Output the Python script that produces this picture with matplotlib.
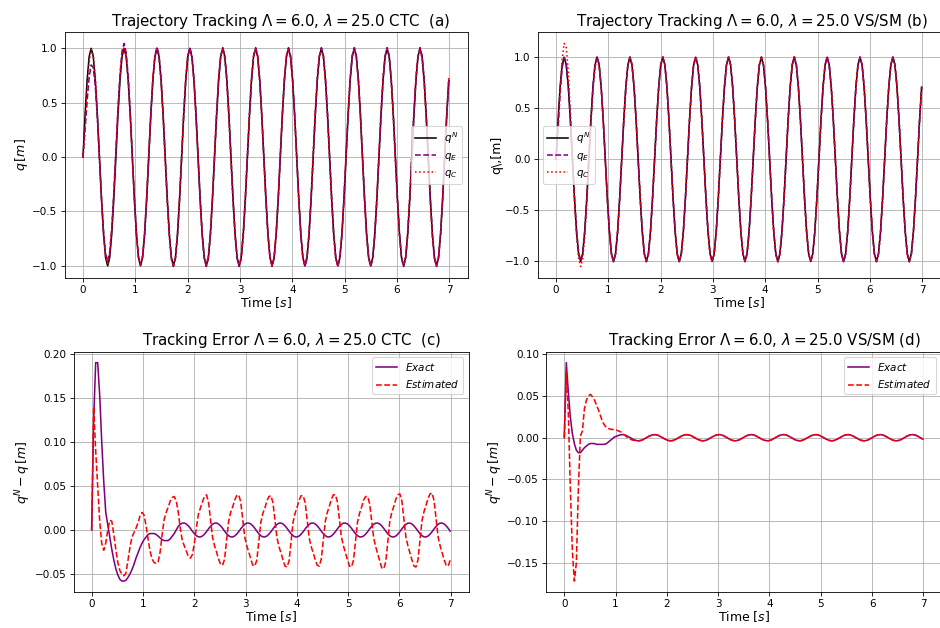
import numpy as np
import matplotlib
matplotlib.use('Agg')
import matplotlib.pyplot as plt

# sample times (16 samples per reference period)
t = np.linspace(0.0, 6.99, 179)

# reference trajectory q^N
q_ref = [
    0.0, 0.383, 0.707, 0.924, 1.0, 0.924, 0.707, 0.383, 0.0, -0.383, -0.707, -0.924, -1.0, -0.924, -0.707, -0.383,
    0.0, 0.383, 0.707, 0.924, 1.0, 0.924, 0.707, 0.383, 0.0, -0.383, -0.707, -0.924, -1.0, -0.924, -0.707, -0.383,
    0.0, 0.383, 0.707, 0.924, 1.0, 0.924, 0.707, 0.383, 0.0, -0.383, -0.707, -0.924, -1.0, -0.924, -0.707, -0.383,
    0.0, 0.383, 0.707, 0.924, 1.0, 0.924, 0.707, 0.383, 0.0, -0.383, -0.707, -0.924, -1.0, -0.924, -0.707, -0.383,
    0.0, 0.383, 0.707, 0.924, 1.0, 0.924, 0.707, 0.383, 0.0, -0.383, -0.707, -0.924, -1.0, -0.924, -0.707, -0.383,
    0.0, 0.383, 0.707, 0.924, 1.0, 0.924, 0.707, 0.383, 0.0, -0.383, -0.707, -0.924, -1.0, -0.924, -0.707, -0.383,
    0.0, 0.383, 0.707, 0.924, 1.0, 0.924, 0.707, 0.383, 0.0, -0.383, -0.707, -0.924, -1.0, -0.924, -0.707, -0.383,
    0.0, 0.383, 0.707, 0.924, 1.0, 0.924, 0.707, 0.383, 0.0, -0.383, -0.707, -0.924, -1.0, -0.924, -0.707, -0.383,
    0.0, 0.383, 0.707, 0.924, 1.0, 0.924, 0.707, 0.383, 0.0, -0.383, -0.707, -0.924, -1.0, -0.924, -0.707, -0.383,
    0.0, 0.383, 0.707, 0.924, 1.0, 0.924, 0.707, 0.383, 0.0, -0.383, -0.707, -0.924, -1.0, -0.924, -0.707, -0.383,
    0.0, 0.383, 0.707, 0.924, 1.0, 0.924, 0.707, 0.383, 0.0, -0.383, -0.707, -0.924, -1.0, -0.924, -0.707, -0.383,
    0.0, 0.383, 0.707,
]

# CTC: exact and estimated tracking error
err_exact_ctc = [
    0.0, 0.125, 0.19, 0.19, 0.153, 0.10, 0.055, 0.02, 0.006, -0.008, -0.022, -0.034, -0.044, -0.051, -0.056, -0.058,
    -0.058, -0.057, -0.054, -0.050, -0.045, -0.039, -0.032, -0.026, -0.020, -0.015, -0.011, -0.008, -0.005, -0.004, -0.004, -0.004,
    -0.005, -0.007, -0.009, -0.011, -0.012, -0.012, -0.012, -0.010, -0.007, -0.004, 0.000, 0.0042, 0.0065, 0.0078, 0.0079, 0.0068,
    0.0047, 0.0019, -0.0013, -0.0042, -0.0065, -0.0078, -0.0079, -0.0068, -0.0047, -0.0019, 0.0013, 0.0042, 0.0065, 0.0078, 0.0079, 0.0068,
    0.0047, 0.0019, -0.0013, -0.0042, -0.0065, -0.0078, -0.0079, -0.0068, -0.0047, -0.0019, 0.0013, 0.0042, 0.0065, 0.0078, 0.0079, 0.0068,
    0.0047, 0.0019, -0.0013, -0.0042, -0.0065, -0.0078, -0.0079, -0.0068, -0.0047, -0.0019, 0.0013, 0.0042, 0.0065, 0.0078, 0.0079, 0.0068,
    0.0047, 0.0019, -0.0013, -0.0042, -0.0065, -0.0078, -0.0079, -0.0068, -0.0047, -0.0019, 0.0013, 0.0042, 0.0065, 0.0078, 0.0079, 0.0068,
    0.0047, 0.0019, -0.0013, -0.0042, -0.0065, -0.0078, -0.0079, -0.0068, -0.0047, -0.0019, 0.0013, 0.0042, 0.0065, 0.0078, 0.0079, 0.0068,
    0.0047, 0.0019, -0.0013, -0.0042, -0.0065, -0.0078, -0.0079, -0.0068, -0.0047, -0.0019, 0.0013, 0.0042, 0.0065, 0.0078, 0.0079, 0.0068,
    0.0047, 0.0019, -0.0013, -0.0042, -0.0065, -0.0078, -0.0079, -0.0068, -0.0047, -0.0019, 0.0013, 0.0042, 0.0065, 0.0078, 0.0079, 0.0068,
    0.0047, 0.0019, -0.0013, -0.0042, -0.0065, -0.0078, -0.0079, -0.0068, -0.0047, -0.0019, 0.0013, 0.0042, 0.0065, 0.0078, 0.0079, 0.0068,
    0.0047, 0.0019, -0.0013,
]
err_est_ctc = [
    0.0, 0.14, 0.09, 0.05, 0.01, -0.015, -0.023, -0.015, 0.000, 0.011, 0.010, -0.005, -0.022, -0.037, -0.046, -0.050,
    -0.052, -0.049, -0.035, -0.020, -0.008, -0.003, 0.002, 0.008, 0.016, 0.020, 0.017, 0.005, -0.010, -0.024, -0.033, -0.037,
    -0.038, -0.036, -0.025, -0.005, 0.012, 0.020, 0.026, 0.033, 0.037, 0.038, 0.033, 0.020, 0.002, -0.012, -0.018, -0.024,
    -0.030, -0.032, -0.028, -0.015, 0.003, 0.018, 0.025, 0.032, 0.038, 0.040, 0.032, 0.012, -0.008, -0.018, -0.025, -0.033,
    -0.039, -0.040, -0.033, -0.012, 0.010, 0.020, 0.026, 0.034, 0.039, 0.040, 0.032, 0.012, -0.008, -0.018, -0.025, -0.033,
    -0.040, -0.041, -0.034, -0.013, 0.009, 0.019, 0.025, 0.033, 0.038, 0.039, 0.031, 0.011, -0.009, -0.019, -0.026, -0.034,
    -0.041, -0.042, -0.035, -0.013, 0.009, 0.019, 0.026, 0.034, 0.039, 0.039, 0.031, 0.011, -0.009, -0.019, -0.026, -0.034,
    -0.040, -0.041, -0.033, -0.012, 0.010, 0.020, 0.027, 0.035, 0.040, 0.040, 0.032, 0.012, -0.008, -0.018, -0.026, -0.034,
    -0.041, -0.042, -0.034, -0.013, 0.009, 0.019, 0.026, 0.034, 0.038, 0.038, 0.030, 0.011, -0.009, -0.019, -0.027, -0.035,
    -0.043, -0.044, -0.036, -0.014, 0.010, 0.020, 0.027, 0.035, 0.040, 0.041, 0.033, 0.012, -0.008, -0.018, -0.026, -0.034,
    -0.041, -0.042, -0.034, -0.012, 0.011, 0.021, 0.028, 0.036, 0.041, 0.042, 0.033, 0.012, -0.008, -0.018, -0.026, -0.034,
    -0.040, -0.041, -0.034,
]

# VS/SM: exact and estimated tracking error
err_exact_vs = [
    0.0, 0.09, 0.055, 0.025, 0.005, -0.007, -0.015, -0.018, -0.018, -0.015, -0.012, -0.010, -0.008, -0.007, -0.007, -0.007,
    -0.008, -0.008, -0.008, -0.008, -0.008, -0.007, -0.005, -0.003, -0.001, 0.001, 0.0017, 0.0028, 0.0035, 0.0037, 0.0033, 0.0024,
    0.0011, -0.0003, -0.0017, -0.0028, -0.0035, -0.0037, -0.0033, -0.0024, -0.0011, 0.0003, 0.0017, 0.0028, 0.0035, 0.0037, 0.0033, 0.0024,
    0.0011, -0.0003, -0.0017, -0.0028, -0.0035, -0.0037, -0.0033, -0.0024, -0.0011, 0.0003, 0.0017, 0.0028, 0.0035, 0.0037, 0.0033, 0.0024,
    0.0011, -0.0003, -0.0017, -0.0028, -0.0035, -0.0037, -0.0033, -0.0024, -0.0011, 0.0003, 0.0017, 0.0028, 0.0035, 0.0037, 0.0033, 0.0024,
    0.0011, -0.0003, -0.0017, -0.0028, -0.0035, -0.0037, -0.0033, -0.0024, -0.0011, 0.0003, 0.0017, 0.0028, 0.0035, 0.0037, 0.0033, 0.0024,
    0.0011, -0.0003, -0.0017, -0.0028, -0.0035, -0.0037, -0.0033, -0.0024, -0.0011, 0.0003, 0.0017, 0.0028, 0.0035, 0.0037, 0.0033, 0.0024,
    0.0011, -0.0003, -0.0017, -0.0028, -0.0035, -0.0037, -0.0033, -0.0024, -0.0011, 0.0003, 0.0017, 0.0028, 0.0035, 0.0037, 0.0033, 0.0024,
    0.0011, -0.0003, -0.0017, -0.0028, -0.0035, -0.0037, -0.0033, -0.0024, -0.0011, 0.0003, 0.0017, 0.0028, 0.0035, 0.0037, 0.0033, 0.0024,
    0.0011, -0.0003, -0.0017, -0.0028, -0.0035, -0.0037, -0.0033, -0.0024, -0.0011, 0.0003, 0.0017, 0.0028, 0.0035, 0.0037, 0.0033, 0.0024,
    0.0011, -0.0003, -0.0017, -0.0028, -0.0035, -0.0037, -0.0033, -0.0024, -0.0011, 0.0003, 0.0017, 0.0028, 0.0035, 0.0037, 0.0033, 0.0024,
    0.0011, -0.0003, -0.0017,
]
err_est_vs = [
    0.0, 0.08, 0.03, -0.06, -0.135, -0.172, -0.15, -0.06, 0.002, 0.008, 0.035, 0.045, 0.050, 0.052, 0.049, 0.045,
    0.039, 0.033, 0.026, 0.019, 0.015, 0.012, 0.011, 0.010, 0.010, 0.009, 0.009, 0.008, 0.007, 0.005, 0.003, 0.001,
    -0.001, -0.002, -0.003, -0.0033, -0.0035, -0.0037, -0.0033, -0.0024, -0.0011, 0.0003, 0.0017, 0.0028, 0.0035, 0.0037, 0.0033, 0.0024,
    0.0011, -0.0003, -0.0017, -0.0028, -0.0035, -0.0037, -0.0033, -0.0024, -0.0011, 0.0003, 0.0017, 0.0028, 0.0035, 0.0037, 0.0033, 0.0024,
    0.0011, -0.0003, -0.0017, -0.0028, -0.0035, -0.0037, -0.0033, -0.0024, -0.0011, 0.0003, 0.0017, 0.0028, 0.0035, 0.0037, 0.0033, 0.0024,
    0.0011, -0.0003, -0.0017, -0.0028, -0.0035, -0.0037, -0.0033, -0.0024, -0.0011, 0.0003, 0.0017, 0.0028, 0.0035, 0.0037, 0.0033, 0.0024,
    0.0011, -0.0003, -0.0017, -0.0028, -0.0035, -0.0037, -0.0033, -0.0024, -0.0011, 0.0003, 0.0017, 0.0028, 0.0035, 0.0037, 0.0033, 0.0024,
    0.0011, -0.0003, -0.0017, -0.0028, -0.0035, -0.0037, -0.0033, -0.0024, -0.0011, 0.0003, 0.0017, 0.0028, 0.0035, 0.0037, 0.0033, 0.0024,
    0.0011, -0.0003, -0.0017, -0.0028, -0.0035, -0.0037, -0.0033, -0.0024, -0.0011, 0.0003, 0.0017, 0.0028, 0.0035, 0.0037, 0.0033, 0.0024,
    0.0011, -0.0003, -0.0017, -0.0028, -0.0035, -0.0037, -0.0033, -0.0024, -0.0011, 0.0003, 0.0017, 0.0028, 0.0035, 0.0037, 0.0033, 0.0024,
    0.0011, -0.0003, -0.0017, -0.0028, -0.0035, -0.0037, -0.0033, -0.0024, -0.0011, 0.0003, 0.0017, 0.0028, 0.0035, 0.0037, 0.0033, 0.0024,
    0.0011, -0.0003, -0.0017,
]

q_ref = np.array(q_ref)
err_exact_ctc = np.array(err_exact_ctc)
err_est_ctc = np.array(err_est_ctc)
err_exact_vs = np.array(err_exact_vs)
err_est_vs = np.array(err_est_vs)

# 940x628 px at 75 dpi
fig = plt.figure(figsize=(940 / 75, 628 / 75), dpi=75)

ax_a = fig.add_axes([0.0688, 0.5578, 0.4287, 0.3908])
ax_b = fig.add_axes([0.5720, 0.5578, 0.4285, 0.3908])
ax_c = fig.add_axes([0.0784, 0.0573, 0.4202, 0.3826])
ax_d = fig.add_axes([0.5812, 0.0573, 0.4202, 0.3826])

label_fs = 12

# (a) trajectory CTC
ax_a.plot(t, q_ref, color='black', label='$q^N$')
ax_a.plot(t, q_ref - err_exact_ctc, '--', color='purple', label='$q_E$')
ax_a.plot(t, q_ref - err_est_ctc, ':', color='red', label='$q_C$')
ax_a.set_title(r'Trajectory Tracking $\Lambda = 6.0$, $\lambda = 25.0$ CTC  (a)', fontsize='x-large', x=0.537)
ax_a.set_ylabel(r'$q\,[m]$', fontsize=label_fs, labelpad=2)
ax_a.set_xlabel('Time $[s]$', fontsize=label_fs, labelpad=0)
ax_a.legend(loc='center right')

# (b) trajectory VS/SM
ax_b.plot(t, q_ref, color='black', label='$q^N$')
ax_b.plot(t, q_ref - err_exact_vs, '--', color='purple', label='$q_E$')
ax_b.plot(t, q_ref - err_est_vs, ':', color='red', label='$q_C$')
ax_b.set_title(r'Trajectory Tracking $\Lambda = 6.0$, $\lambda = 25.0$ VS/SM (b)', fontsize='x-large', x=0.531)
ax_b.set_ylabel('q\\,[m]', fontsize=label_fs, labelpad=2)
ax_b.set_xlabel('Time $[s]$', fontsize=label_fs, labelpad=0)
ax_b.legend(loc='center left')

# (c) error CTC
ax_c.plot(t, err_exact_ctc, color='purple', label='$Exact$')
ax_c.plot(t, err_est_ctc, '--', color='red', label='$Estimated$')
ax_c.set_title(r'Tracking Error $\Lambda = 6.0$, $\lambda = 25.0$ CTC  (c)', fontsize='x-large', x=0.551)
ax_c.set_ylabel(r'$q^N - q\,[m]$', fontsize=label_fs, labelpad=2)
ax_c.set_xlabel('Time $[s]$', fontsize=label_fs, labelpad=0)
ax_c.legend(loc='upper right')

# (d) error VS/SM
ax_d.plot(t, err_exact_vs, color='purple', label='$Exact$')
ax_d.plot(t, err_est_vs, '--', color='red', label='$Estimated$')
ax_d.set_title(r'Tracking Error $\Lambda = 6.0$, $\lambda = 25.0$ VS/SM (d)', fontsize='x-large', x=0.551)
ax_d.set_ylabel(r'$q^N - q\,[m]$', fontsize=label_fs, labelpad=2)
ax_d.set_xlabel('Time $[s]$', fontsize=label_fs, labelpad=0)
ax_d.legend(loc='upper right')

for ax in [ax_a, ax_b, ax_c, ax_d]:
    ax.set_xlim(-0.35, 7.35)
    ax.grid(True)

fig.savefig('out.png', dpi=75)
